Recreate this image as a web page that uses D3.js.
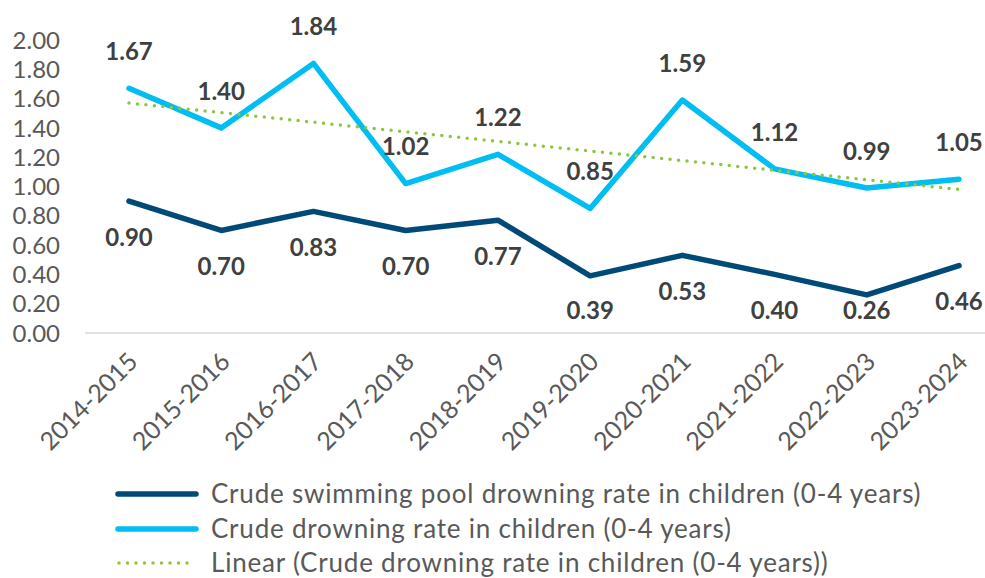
<!DOCTYPE html>
<html>
<head>
<meta charset="utf-8">
<script src="https://cdn.jsdelivr.net/npm/d3@7"></script>
<style>
	body { margin: 0; background: #fff; }
	svg { font-family: Lato, 'Open Sans', sans-serif; }
</style>
</head>
<body>
<svg id="chart" width="985" height="578"></svg>
<script>
let seasons = ['2014-2015', '2015-2016', '2016-2017', '2017-2018', '2018-2019', '2019-2020', '2020-2021', '2021-2022', '2022-2023', '2023-2024'];
let poolRate = [0.90, 0.70, 0.83, 0.70, 0.77, 0.39, 0.53, 0.40, 0.26, 0.46];
let allRate = [1.67, 1.40, 1.84, 1.02, 1.22, 0.85, 1.59, 1.12, 0.99, 1.05];
let trendEnds = [1.57, 0.98];	// trend line (first and last season)
let yTicks = [0, 0.2, 0.4, 0.6, 0.8, 1.0, 1.2, 1.4, 1.6, 1.8, 2.0];
let legendNames = ['Crude swimming pool drowning rate in children (0-4 years)', 'Crude drowning rate in children (0-4 years)', 'Linear (Crude drowning rate in children (0-4 years))'];

let dark = '#004a77';
let light = '#00bdf2';
let green = '#8dc63f';

let svg = d3.select('#chart');

let x = d3.scalePoint().domain(seasons).range([129, 959]);
let y = d3.scaleLinear().domain([0, 2]).range([333, 40]);

// y axis labels
svg.append('g').selectAll('text').data(yTicks).join('text')
	.attr('x', 60)
	.attr('y', d => y(d))
	.attr('dy', '0.36em')
	.attr('text-anchor', 'end')
	.style('font-size', '24px')
	.style('fill', '#595959')
	.text(d => d3.format('.2f')(d));

// baseline
svg.append('line')
	.attr('x1', 85).attr('x2', 985)
	.attr('y1', y(0)).attr('y2', y(0))
	.style('stroke', '#d9d9d9')
	.style('stroke-width', 1.5);

// x labels
svg.append('g').selectAll('text').data(seasons).join('text')
	.attr('transform', d => 'translate(' + (x(d) + 4) + ',' + (y(0) + 24) + ') rotate(-45)')
	.attr('text-anchor', 'end')
	.attr('dy', '0.35em')
	.style('font-size', '25px')
	.style('fill', '#595959')
	.text(d => d);

let lineFn = d3.line().x((d, i) => x(seasons[i])).y(d => y(d));

svg.append('path')
	.attr('d', lineFn(allRate))
	.style('fill', 'none')
	.style('stroke', light)
	.style('stroke-width', 5.5)
	.style('stroke-linejoin', 'round')
	.style('stroke-linecap', 'round');

svg.append('path')
	.attr('d', lineFn(poolRate))
	.style('fill', 'none')
	.style('stroke', dark)
	.style('stroke-width', 5.5)
	.style('stroke-linejoin', 'round')
	.style('stroke-linecap', 'round');

// trend line
svg.append('line')
	.attr('x1', x(seasons[0])).attr('x2', x(seasons[seasons.length - 1]))
	.attr('y1', y(trendEnds[0])).attr('y2', y(trendEnds[1]))
	.style('stroke', green)
	.style('stroke-width', 3.5)
	.style('stroke-linecap', 'round')
	.style('stroke-dasharray', '0 8.5');

// value labels
svg.append('g').selectAll('text').data(allRate).join('text')
	.attr('x', (d, i) => x(seasons[i]))
	.attr('y', d => y(d) - 37)
	.attr('dy', '0.36em')
	.attr('text-anchor', 'middle')
	.style('font-size', '24px')
	.style('font-weight', 'bold')
	.style('fill', '#404040')
	.text(d => d3.format('.2f')(d));

svg.append('g').selectAll('text').data(poolRate).join('text')
	.attr('x', (d, i) => x(seasons[i]))
	.attr('y', d => Math.min(y(d) + 36, 310))
	.attr('dy', '0.36em')
	.attr('text-anchor', 'middle')
	.style('font-size', '24px')
	.style('font-weight', 'bold')
	.style('fill', '#404040')
	.text(d => d3.format('.2f')(d));

// legend
let legend = svg.append('g').selectAll('g').data(legendNames).join('g')
	.attr('transform', (d, i) => 'translate(0,' + [494, 529, 563][i] + ')');
legend.append('line')
	.attr('x1', (d, i) => i == 2 ? 119 : 118)
	.attr('x2', (d, i) => i == 2 ? 192 : 196)
	.style('stroke', (d, i) => [dark, light, green][i])
	.style('stroke-width', (d, i) => i == 2 ? 3.5 : 5.5)
	.style('stroke-linecap', 'round')
	.style('stroke-dasharray', (d, i) => i == 2 ? '0 8.5' : null);
legend.append('text')
	.attr('x', 211)
	.attr('dy', '0.36em')
	.style('font-size', '26px')
	.style('letter-spacing', '0.8px')
	.style('fill', '#595959')
	.text(d => d);
</script>
</body>
</html>
